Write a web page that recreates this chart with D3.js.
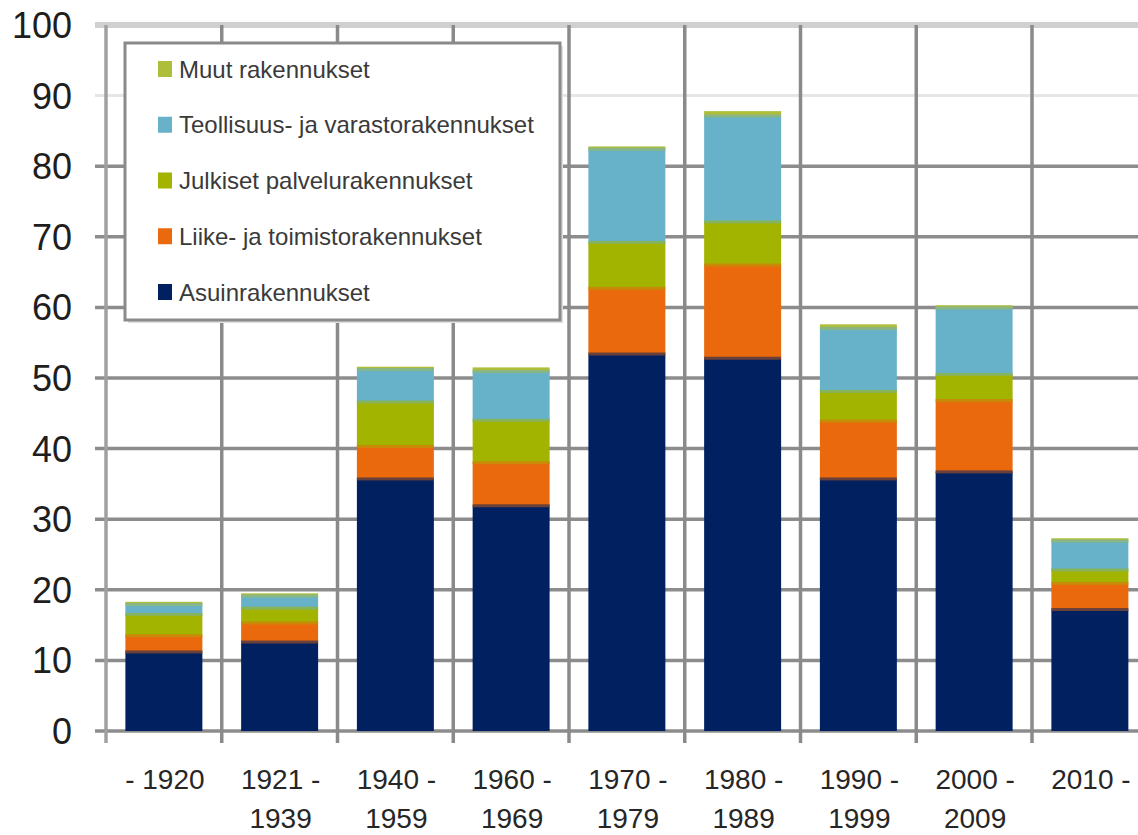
<!DOCTYPE html>
<html>
<head>
<meta charset="utf-8">
<script src="https://cdn.jsdelivr.net/npm/d3@7"></script>
<style>
  html, body { margin: 0; padding: 0; background: #ffffff; }
  svg { display: block; }
  text { font-family: "Liberation Sans", Arial, sans-serif; }
</style>
</head>
<body>
<svg id="chart" width="1138" height="835"></svg>
<script>
// ---- Data ----
const categories = ["- 1920", "1921 -\n1939", "1940 -\n1959", "1960 -\n1969", "1970 -\n1979",
                    "1980 -\n1989", "1990 -\n1999", "2000 -\n2009", "2010 -"];
const seriesNames = ["Asuinrakennukset", "Liike- ja toimistorakennukset", "Julkiset palvelurakennukset",
                     "Teollisuus- ja varastorakennukset", "Muut rakennukset"];
const legendLabels = ["Asuinrakennukset", "Liike- ja toimistorakennukset", "Julkiset palvelurakennukset",
                      "Teollisuus- ja varastorakennukset", "Muut rakennukset"];
const asuin      = [11.2, 12.6, 35.7, 31.9, 53.4, 52.8, 35.7, 36.7, 17.2];
const liike      = [ 2.3,  2.7,  4.6,  6.1,  9.3, 13.2,  8.2, 10.1,  3.7];
const julkiset   = [ 3.0,  2.1,  6.3,  6.0,  6.5,  6.1,  4.2,  3.7,  1.9];
const teollisuus = [ 1.4,  1.7,  4.6,  6.9, 13.2, 15.0,  8.9,  9.4,  4.1];
const muut       = [ 0.4,  0.4,  0.4,  0.6,  0.4,  0.7,  0.6,  0.4,  0.4];
const yTicks = [0, 10, 20, 30, 40, 50, 60, 70, 80, 90, 100];
const colors = ["#002060", "#e9690c", "#a2b300", "#67b2c8", "#aebd3a"];

// ---- Build table ----
const seriesValues = [asuin, liike, julkiset, teollisuus, muut];
const table = categories.map((c, i) => {
  const row = { cat: c };
  seriesNames.forEach((s, j) => { row[s] = seriesValues[j][i]; });
  return row;
});
const stacked = d3.stack().keys(seriesNames)(table);

// ---- Scales ----
const svg = d3.select("#chart");
const x = d3.scaleBand().domain(categories).range([106, 1147.75]).paddingInner(0.335).paddingOuter(0.1675);
const y = d3.scaleLinear().domain([0, 100]).range([731, 25]);
const color = d3.scaleOrdinal().domain(seriesNames).range(colors);

// ---- Grid ----
const grid = svg.append("g");
function gridStroke(t) { return t === 100 ? "#d0d0d0" : (t === 90 ? "#e6e6e6" : "#8c8c8c"); }
function gridWidth(t) { return t === 100 ? 6 : (t === 90 ? 3 : 3.5); }
grid.selectAll("line.h").data(yTicks).join("line")
  .attr("class", "h")
  .attr("x1", 95).attr("x2", 1138)
  .attr("y1", d => y(d)).attr("y2", d => y(d))
  .attr("stroke", gridStroke).attr("stroke-width", gridWidth);
const vIdx = d3.range(categories.length + 1);
grid.selectAll("line.v").data(vIdx).join("line")
  .attr("class", "v")
  .attr("x1", i => x.range()[0] + i * x.step()).attr("x2", i => x.range()[0] + i * x.step())
  .attr("y1", y(100)).attr("y2", y(0) + 12)
  .attr("stroke", (d, i) => i === 0 ? "#a0a0a0" : "#8a8a8a").attr("stroke-width", 3.5);

// ---- Bars ----
const barsG = svg.append("g");
barsG.selectAll("g.series").data(stacked).join("g")
  .attr("class", "series")
  .attr("fill", d => color(d.key))
  .selectAll("rect").data(d => d).join("rect")
  .attr("x", d => x(d.data.cat))
  .attr("width", x.bandwidth())
  .attr("y", d => y(d[1]))
  .attr("height", d => y(d[0]) - y(d[1]));

// blended seams between adjacent segments (as rendered in the reference)
const seams = [];
stacked.forEach((s, j) => {
  if (j === stacked.length - 1) return;
  s.forEach((d, i) => {
    seams.push({ cat: d.data.cat, v: d[1],
      c: d3.interpolateRgb(colors[j], colors[j + 1])(0.45) });
  });
});
barsG.selectAll("rect.seam").data(seams).join("rect")
  .attr("class", "seam")
  .attr("x", d => x(d.cat)).attr("width", x.bandwidth())
  .attr("y", d => y(d.v) - 1.5).attr("height", 3)
  .attr("fill", d => d.c);

// ---- Y axis labels ----
svg.append("g").selectAll("text").data(yTicks).join("text")
  .attr("x", 72).attr("y", d => y(d))
  .attr("dy", "0.36em")
  .attr("text-anchor", "end")
  .attr("font-size", 36)
  .attr("fill", "#1e1e1e")
  .text(d => d);

// ---- X axis labels ----
const xl = svg.append("g").selectAll("text").data(categories).join("text")
  .attr("text-anchor", "middle")
  .attr("font-size", 28)
  .attr("fill", "#262626");
xl.each(function(d) {
  const lines = d.split("\n");
  const t = d3.select(this);
  lines.forEach((ln, k) => {
    t.append("tspan")
      .attr("x", x(d) + x.bandwidth() / 2 + 1)
      .attr("y", k === 0 ? 789 : 828)
      .text(ln);
  });
});

// ---- Legend ----
const lg = svg.append("g");
lg.append("rect").attr("x", 128).attr("y", 46).attr("width", 435).attr("height", 277).attr("fill", "#dedede");
lg.append("rect").attr("x", 125).attr("y", 43).attr("width", 435).attr("height", 277)
  .attr("fill", "#ffffff").attr("stroke", "#8a8a8a").attr("stroke-width", 3);
const legendOrder = d3.range(seriesNames.length).reverse();
const rowY = d3.scalePoint().domain(legendOrder).range([69, 292]);
const items = lg.selectAll("g.item").data(legendOrder).join("g").attr("class", "item")
  .attr("transform", j => `translate(0,${rowY(j)})`);
items.append("rect").attr("x", 158).attr("y", -8).attr("width", 14).attr("height", 16)
  .attr("fill", j => colors[j]);
items.append("text").attr("x", 179).attr("y", 0).attr("dy", "0.36em")
  .attr("font-size", 24).attr("fill", "#3a3a3a")
  .text(j => legendLabels[j]);
</script>
</body>
</html>
